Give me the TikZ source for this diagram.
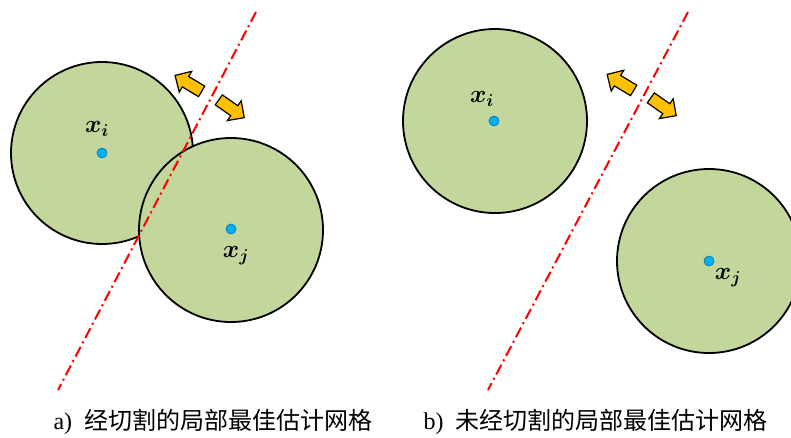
\documentclass[tikz,border=0pt]{standalone}
\usepackage{fontspec}
\usepackage{bm}
\setmainfont{Liberation Serif}
\newfontfamily\cjk{Noto Sans CJK SC}
\usetikzlibrary{positioning, shapes.arrows}

\definecolor{cellgreen}{RGB}{195,214,155}
\definecolor{seedblue}{RGB}{0,176,240}
\definecolor{seedrim}{RGB}{0,112,192}
\definecolor{pushgold}{RGB}{255,192,0}

\tikzset{
    cell/.style={circle, draw=black, line width=1.8pt, fill=cellgreen, minimum size=184pt, inner sep=0pt},
    seed/.style={circle, draw=seedrim, line width=0.6pt, fill=seedblue, minimum size=10pt, inner sep=0pt},
    cutline/.style={red, line width=2pt, dash pattern=on 11pt off 4pt on 2pt off 4pt},
    push/.style={single arrow, draw=black, line width=1.2pt, fill=pushgold, minimum height=31pt,
        inner sep=5.5pt, single arrow head extend=6pt},
    lbl/.style={font=\fontsize{27}{29}\selectfont},
    captext/.style={font=\fontsize{24}{28}\selectfont, anchor=west}
}

\begin{document}
\begin{tikzpicture}[x=1pt, y=-1pt]
    \useasboundingbox (0,0) rectangle (791,437);
    \clip (0,0) rectangle (791,437);

    % a) 经切割
    \node[cell, minimum size=182pt] (ca1) at (102,153) {};
    \node[cell] (ca2) at (231,230) {};
    \coordinate (ta) at (256,12);
    \coordinate (ba) at (58,390);
    \draw[cutline] (ta) -- (ba);
    \node[seed] (pa1) at (102,153) {};
    \node[seed] (pa2) at (231,229) {};
    \node[lbl] (la1) at (97,129) {$\bm{x_i}$};
    \node[lbl] (la2) at (236,256) {$\bm{x_j}$};
    \node[push, rotate=149] (ua1) at (191,85) {};
    \node[push, rotate=-35] (ua2) at (229,107) {};

    % b) 未经切割
    \node[cell] (cb1) at (495,121) {};
    \node[cell] (cb2) at (709,261) {};
    \coordinate (tb) at (688,12);
    \coordinate (bb) at (488,390);
    \draw[cutline] (tb) -- (bb);
    \node[seed] (pb1) at (494,121) {};
    \node[seed] (pb2) at (709,261) {};
    \node[lbl] (lb1) at (482,99) {$\bm{x_i}$};
    \node[lbl] (lb2) at (728,278) {$\bm{x_j}$};
    \node[push, rotate=149] (ub1) at (623,84) {};
    \node[push, rotate=-35] (ub2) at (661,105) {};

    % 图注
    \node[captext] (capa) at (50,422) {a)\ \ {\cjk 经切割的局部最佳估计网格}};
    \node[captext] (capb) at (420,422) {b)\ \ {\cjk 未经切割的局部最佳估计网格}};
\end{tikzpicture}
\end{document}
